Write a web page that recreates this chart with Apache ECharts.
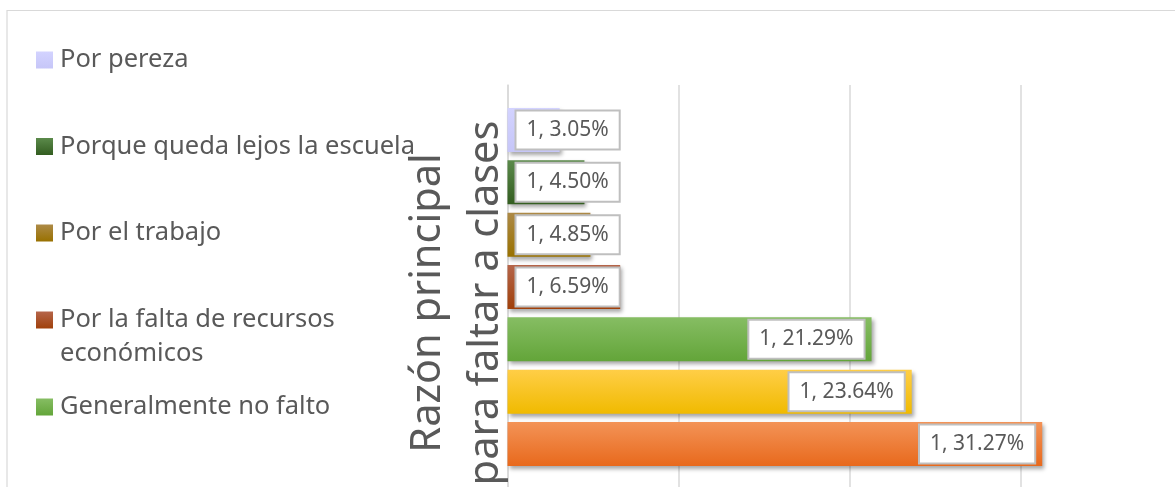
<!DOCTYPE html>
<html>
<head>
<meta charset="utf-8">
<script src="https://cdn.jsdelivr.net/npm/echarts@6/dist/echarts.min.js"></script>
<style>
html,body{margin:0;padding:0;background:#fff;}
#c{width:1175px;height:487px;}
</style>
</head>
<body>
<div id="c"></div>
<script>
// ---- data ----
const categories = ['1'];
const seriesNames = [
  'Por pereza',
  'Porque queda lejos la escuela',
  'Por el trabajo',
  'Por la falta de recursos económicos',
  'Generalmente no falto',
  'Serie 6',
  'Serie 7'
];
const seriesValues = [3.05, 4.50, 4.85, 6.59, 21.29, 23.64, 31.27];
const legendNames = seriesNames.slice(0, 5);
const xTicks = [0, 10, 20, 30, 40];
const axisTitle = 'Razón principal\npara faltar a clases';

// ---- styles ----
const barColors = [
  ['#d3d3ff', '#c6c6f8'],
  ['#5b8a4b', '#335d20'],
  ['#ad8a47', '#997100'],
  ['#b5654a', '#a0400a'],
  ['#86bd63', '#63a539'],
  ['#ffce47', '#f0ba00'],
  ['#f39357', '#e8691c']
];
const legendCenters = [60, 146.5, 233, 320, 407];
const FONT = 'Noto Sans';

function grad(c) {
  return new echarts.graphic.LinearGradient(0, 0, 0, 1, [
    { offset: 0, color: c[0] },
    { offset: 1, color: c[1] }
  ]);
}

const series = seriesNames.map((name, i) => ({
  type: 'bar',
  name: name,
  data: [seriesValues[i]],
  barWidth: 44,
  barGap: '19%',
  itemStyle: {
    color: grad(barColors[i]),
    shadowColor: 'rgba(0,0,0,0.35)',
    shadowBlur: 4,
    shadowOffsetX: 2,
    shadowOffsetY: 3
  },
  label: {
    show: true,
    position: seriesValues[i] < 10 ? 'insideLeft' : 'insideRight',
    distance: seriesValues[i] < 10 ? 9 : 8,
    formatter: p => p.name + ', ' + Number(p.value).toFixed(2) + '%',
    backgroundColor: '#ffffff',
    borderColor: '#bfbfbf',
    borderWidth: 2,
    padding: [8, 10, 7, 10],
    fontSize: 21,
    lineHeight: 22,
    color: '#595959',
    fontFamily: FONT
  },
  emphasis: { disabled: true }
}));

const legends = legendNames.map((name, i) => {
  const twoLine = name === 'Por la falta de recursos económicos';
  return {
    data: [name],
    orient: 'vertical',
    left: 36,
    top: twoLine ? legendCenters[i] - 51 : legendCenters[i] - 17,
    padding: 0,
    itemWidth: 17,
    itemHeight: 17,
    icon: 'rect',
    selectedMode: false,
    itemStyle: { shadowBlur: 0, shadowOffsetX: 0, shadowOffsetY: 0, borderWidth: 0 },
    formatter: twoLine ? () => '\nPor la falta de recursos\neconómicos' : '{name}',
    textStyle: {
      fontSize: 25.5,
      lineHeight: 34,
      color: '#595959',
      fontFamily: FONT,
      padding: [0, 0, 0, 2]
    }
  };
});

const chart = echarts.init(document.getElementById('c'), null, { renderer: 'canvas' });
chart.setOption({
  animation: false,
  backgroundColor: '#ffffff',
  legend: legends,
  grid: { left: 507.5, top: 85, width: 684, height: 404, containLabel: false, outerBoundsMode: 'none' },
  xAxis: {
    type: 'value',
    min: xTicks[0],
    max: xTicks[xTicks.length - 1],
    interval: xTicks[1] - xTicks[0],
    axisLine: { show: false },
    axisTick: { show: false },
    axisLabel: { show: false },
    splitLine: { show: true, lineStyle: { color: '#d9d9d9', width: 1.5 } }
  },
  yAxis: {
    type: 'category',
    data: categories,
    axisLine: { show: true, lineStyle: { color: '#d9d9d9', width: 1.5 } },
    axisTick: { show: false },
    axisLabel: { show: false }
  },
  graphic: [
    {
      type: 'rect',
      silent: true,
      shape: { x: 7, y: 10.5, width: 1200, height: 520 },
      style: { fill: 'none', stroke: '#d9d9d9', lineWidth: 1.2 },
      z: -10
    },
    {
      type: 'text',
      silent: true,
      x: 457,
      y: 303,
      rotation: Math.PI / 2,
      style: {
        text: axisTitle,
        fontSize: 41.5,
        fontFamily: FONT,
        lineHeight: 58,
        fill: '#595959',
        align: 'center',
        verticalAlign: 'middle'
      },
      z: 10
    }
  ],
  series: series
});
</script>
</body>
</html>
